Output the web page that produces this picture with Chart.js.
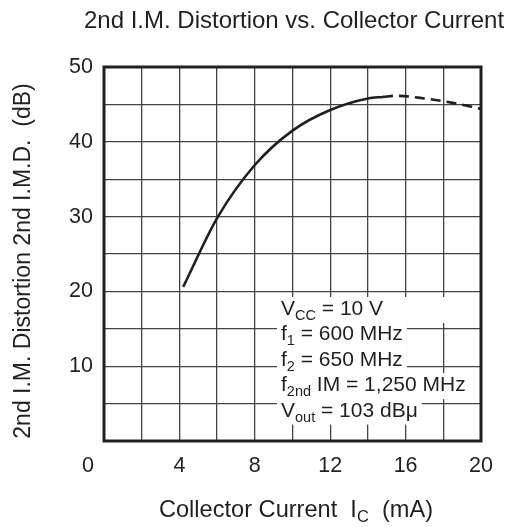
<!DOCTYPE html>
<html>
<head>
<meta charset="utf-8">
<script src="https://cdn.jsdelivr.net/npm/chart.js@4"></script>
<style>
  html, body { margin: 0; padding: 0; background: #fff; }
  #wrap { width: 509px; height: 527px; }
</style>
</head>
<body>
<div id="wrap"><canvas id="c" width="509" height="527"></canvas></div>
<script>
// ---- data ----
const solidCurrent = [4.2, 6, 8, 10, 12, 14, 14.8];
const solidIMD     = [20.6, 29.8, 36.9, 41.5, 44.25, 45.8, 46.0];
const dashedCurrent = [14.8, 15.5, 17, 18.5, 20];
const dashedIMD     = [46.0, 46.15, 45.8, 45.2, 44.4];

const xTickLabels = [0, 4, 8, 12, 16, 20];
const yTickLabels = [10, 20, 30, 40, 50];

const titleText = '2nd I.M. Distortion vs. Collector Current';
const xTitleParts = [['Collector Current  I', false], ['C', true], ['  (mA)', false]];
const yTitleText = '2nd I.M. Distortion 2nd I.M.D.  (dB)';
const annotationLines = [
  [['V', false], ['CC', true], [' = 10 V', false]],
  [['f', false], ['1', true], [' = 600 MHz', false]],
  [['f', false], ['2', true], [' = 650 MHz', false]],
  [['f', false], ['2nd', true], [' IM = 1,250 MHz', false]],
  [['V', false], ['out', true], [' = 103 dB\u03bc', false]]
];

// ---- styles ----
const FAM = '"Liberation Sans", Arial, Helvetica, sans-serif';
const INK = '#231f20';
const GRID = '#444444';

function toPoints(xs, ys) { return xs.map((x, i) => ({ x: x, y: ys[i] })); }

function drawParts(ctx, parts, x, y, size, subSize, subDrop) {
  let cx = x;
  for (const [t, sub] of parts) {
    ctx.font = (sub ? subSize : size) + 'px ' + FAM;
    ctx.fillText(t, cx, sub ? y + subDrop : y);
    cx += ctx.measureText(t).width;
  }
  return cx - x;
}
function measureParts(ctx, parts, size, subSize) {
  let w = 0;
  for (const [t, sub] of parts) {
    ctx.font = (sub ? subSize : size) + 'px ' + FAM;
    w += ctx.measureText(t).width;
  }
  return w;
}

const decor = {
  id: 'decor',
  afterDraw(chart) {
    const ctx = chart.ctx;
    const a = chart.chartArea;
    const xs = chart.scales.x;
    ctx.save();
    ctx.fillStyle = INK;
    ctx.textBaseline = 'alphabetic';

    // annotation block with white backing
    const annX = 281, annY0 = 315, annStep = 25.4;
    const minRight = [446, 0, 0, 0, 0];
    annotationLines.forEach((parts, i) => {
      const by = annY0 + i * annStep;
      const w = measureParts(ctx, parts, 21, 14.5);
      const right = Math.max(annX + w + 4, minRight[i]);
      ctx.fillStyle = '#fff';
      ctx.fillRect(annX - 4, by - 18, right - (annX - 4), 26);
    });
    ctx.fillStyle = INK;
    ctx.textAlign = 'left';
    annotationLines.forEach((parts, i) => {
      const by = annY0 + i * annStep;
      drawParts(ctx, parts, annX, by, 21, 14.5, 5);
    });

    // plot frame
    ctx.strokeStyle = INK;
    ctx.lineWidth = 3;
    ctx.strokeRect(a.left, a.top, a.right - a.left, a.bottom - a.top);

    // title
    ctx.font = '24px ' + FAM;
    ctx.textAlign = 'center';
    ctx.fillText(titleText, (a.left + a.right) / 2 + 1.5, 28);

    // x title with subscript
    ctx.textAlign = 'left';
    const xw = measureParts(ctx, xTitleParts, 23.6, 16.5);
    drawParts(ctx, xTitleParts, (a.left + a.right) / 2 + 3.5 - xw / 2, 517, 23.6, 16.5, 5);

    // y title rotated
    ctx.save();
    ctx.translate(29.5, 261);
    ctx.rotate(-Math.PI / 2);
    ctx.font = '23px ' + FAM;
    ctx.textAlign = 'center';
    ctx.fillText(yTitleText, 0, 0);
    ctx.restore();

    // x "0" label, set off to the left of the frame like the reference
    ctx.font = '21.5px ' + FAM;
    ctx.textAlign = 'center';
    ctx.fillText(String(xTickLabels[0]), xs.getPixelForValue(xTickLabels[0]) - 16, 472);
    ctx.restore();
  }
};

new Chart(document.getElementById('c'), {
  type: 'line',
  data: {
    datasets: [
      {
        data: toPoints(solidCurrent, solidIMD),
        borderColor: INK, borderWidth: 2.6, pointRadius: 0,
        cubicInterpolationMode: 'monotone', fill: false
      },
      {
        data: toPoints(dashedCurrent, dashedIMD),
        borderColor: INK, borderWidth: 2.6, pointRadius: 0, borderDash: [10, 6],
        cubicInterpolationMode: 'monotone', fill: false
      }
    ]
  },
  options: {
    responsive: false,
    animation: false,
    events: [],
    layout: { padding: { left: 0, right: 28, top: 67, bottom: 46 } },
    plugins: { legend: { display: false }, tooltip: { enabled: false }, title: { display: false } },
    scales: {
      x: {
        type: 'linear', min: 0, max: 20,
        afterFit(s) { s.height = 40; },
        border: { display: false },
        grid: { color: GRID, lineWidth: 1.3, drawTicks: false },
        ticks: {
          stepSize: 2, padding: 12, color: INK, maxRotation: 0, autoSkip: false,
          font: { family: FAM, size: 21.5 },
          callback: v => (xTickLabels.includes(v) && v !== xTickLabels[0]) ? String(v) : ''
        }
      },
      y: {
        type: 'linear', min: 0, max: 50,
        afterFit(s) { s.width = 104; },
        border: { display: false },
        grid: { color: GRID, lineWidth: 1.3, drawTicks: false },
        ticks: {
          stepSize: 5, padding: 11, color: INK, autoSkip: false,
          font: { family: FAM, size: 21.5 },
          callback: v => yTickLabels.includes(v) ? String(v) : ''
        }
      }
    }
  },
  plugins: [decor]
});
</script>
</body>
</html>
